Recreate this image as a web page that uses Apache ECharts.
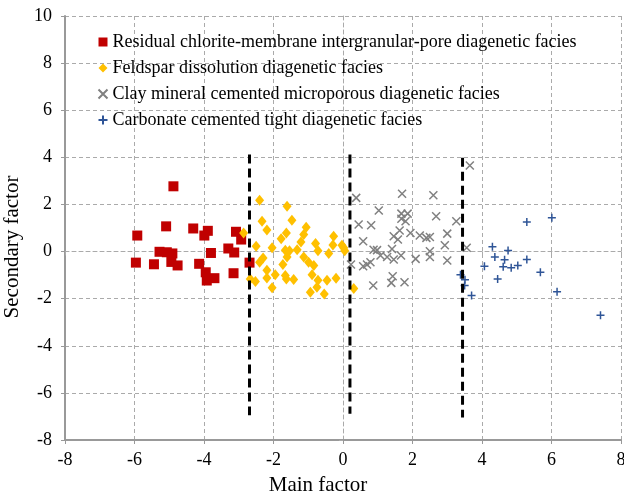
<!DOCTYPE html>
<html>
<head>
<meta charset="utf-8">
<script src="https://cdn.jsdelivr.net/npm/echarts@6/dist/echarts.min.js"></script>
<style>html,body{margin:0;padding:0;background:#fff}#c{width:624px;height:497px}</style>
</head>
<body>
<div id="c"></div>
<script>
const seriesNames = [
  'Residual chlorite-membrane intergranular-pore diagenetic facies',
  'Feldspar dissolution diagenetic facies',
  'Clay mineral cemented microporous diagenetic facies',
  'Carbonate cemented tight diagenetic facies'
];
const residualChlorite = [
  [-4.88,2.77],[-5.92,0.68],[-5.09,1.07],[-4.31,0.98],[-3.89,0.88],[-3.99,0.68],
  [-3.08,0.84],[-2.93,0.51],[-5.28,-0.01],[-5.07,-0.03],[-4.91,-0.08],[-3.80,-0.06],
  [-3.30,0.13],[-3.13,-0.04],[-5.96,-0.47],[-5.44,-0.54],[-4.94,-0.44],[-4.76,-0.59],
  [-4.14,-0.52],[-2.69,-0.47],[-3.95,-0.88],[-3.70,-1.13],[-3.92,-1.23],[-3.15,-0.92]
];
const feldspar = [
  [-2.40,2.18],[-1.61,1.92],[-2.33,1.29],[-1.47,1.33],[-2.19,0.91],[-1.06,1.03],
  [-2.86,0.79],[-1.63,0.79],[-1.13,0.72],[-1.78,0.54],[-0.27,0.65],[-1.21,0.41],
  [-0.79,0.34],[-0.29,0.28],[-2.50,0.23],[-2.04,0.16],[-0.03,0.27],[0.05,0.03],
  [-1.66,0.06],[-1.54,0.03],[-1.32,0.08],[-0.72,0.03],[-0.41,-0.08],[-1.61,-0.23],
  [-1.13,-0.23],[-2.30,-0.27],[-2.40,-0.45],[-0.99,-0.45],[-1.73,-0.55],[-0.84,-0.59],
  [-2.19,-0.79],[-1.95,-0.98],[-0.89,-0.98],[-1.66,-1.02],[-2.19,-1.12],[-2.67,-1.16],
  [-2.52,-1.27],[-1.63,-1.16],[-1.42,-1.19],[-0.72,-1.22],[-0.46,-1.22],[-0.20,-1.13],
  [-2.04,-1.54],[-0.75,-1.52],[-0.94,-1.73],[-0.54,-1.80],[0.31,-1.57],[0.02,0.16]
];
const clayMineral = [
  [3.65,3.65],[0.38,2.28],[1.70,2.45],[2.60,2.39],[1.03,1.74],[1.68,1.61],
  [1.86,1.61],[1.68,1.39],[1.80,1.29],[2.68,1.50],[3.26,1.29],[0.45,1.15],
  [0.81,1.12],[1.63,0.89],[1.94,0.79],[2.21,0.68],[2.40,0.58],[2.50,0.62],
  [3.00,0.76],[1.46,0.65],[1.58,0.51],[0.58,0.44],[2.93,0.27],[3.56,0.16],
  [0.88,0.08],[0.98,0.06],[1.41,0.11],[2.50,0.01],[1.08,-0.17],[1.27,-0.23],
  [1.46,-0.34],[1.67,-0.17],[2.09,-0.31],[2.50,-0.23],[0.23,-0.55],[0.58,-0.62],
  [0.69,-0.55],[0.79,-0.45],[3.00,-0.38],[1.43,-1.05],[1.39,-1.33],[1.77,-1.30],
  [0.87,-1.44]
];
const carbonate = [
  [6.01,1.43],[5.29,1.26],[4.30,0.20],[4.75,0.04],[4.37,-0.23],[4.65,-0.35],
  [5.29,-0.34],[4.07,-0.62],[4.61,-0.65],[4.84,-0.69],[5.03,-0.59],[5.68,-0.88],
  [4.45,-1.16],[3.38,-0.98],[3.51,-1.20],[3.50,-1.44],[3.70,-1.87],[6.16,-1.71],
  [7.41,-2.70]
];
const boundaryLines = [
  [[-2.69,4.12],[-2.69,-6.95]],
  [[0.20,4.12],[0.20,-6.89]],
  [[3.44,3.98],[3.44,-7.04]]
];
const xTicks = {min:-8, max:8, interval:2};
const yTicks = {min:-8, max:10, interval:2};

const serif = 'Liberation Serif, Times New Roman, serif';
const chart = echarts.init(document.getElementById('c'), null, {renderer:'canvas'});
const crossPath = 'path://M0,0L10,10M10,0L0,10';
const plusPath = 'path://M5,0L5,10M0,5L10,5';
const series = [
  {name:seriesNames[0], type:'scatter', data:residualChlorite, symbol:'rect', symbolSize:10,
   itemStyle:{color:'#C00000', opacity:1}},
  {name:seriesNames[1], type:'scatter', data:feldspar, symbol:'diamond', symbolSize:[9,11],
   itemStyle:{color:'#FFC000', opacity:1}},
  {name:seriesNames[2], type:'scatter', data:clayMineral, symbol:crossPath, symbolSize:8,
   itemStyle:{color:'none', borderColor:'#808080', borderWidth:1.5, opacity:1}},
  {name:seriesNames[3], type:'scatter', data:carbonate, symbol:plusPath, symbolSize:8,
   itemStyle:{color:'none', borderColor:'#2F5597', borderWidth:1.5, opacity:1}}
];
boundaryLines.forEach(function(l){
  series.push({type:'line', data:l, symbol:'none', silent:true, xAxisIndex:0, yAxisIndex:0,
    lineStyle:{color:'#000', width:3, type:[9,5]}, z:5});
});
chart.setOption({
  animation:false,
  backgroundColor:'#fff',
  grid:{left:65, right:3, top:16, bottom:57, containLabel:false, outerBoundsMode:'none'},
  legend:{
    data:seriesNames, orient:'vertical', left:96, top:33, itemGap:8, padding:0,
    itemWidth:9, itemHeight:9,
    textStyle:{fontFamily:serif, fontSize:18, color:'#000'}
  },
  xAxis:[{
    type:'value', min:xTicks.min, max:xTicks.max, interval:xTicks.interval,
    name:'Main factor', nameLocation:'middle', nameGap:35,
    nameTextStyle:{fontFamily:serif, fontSize:21, color:'#000', padding:[0,50,0,0]},
    axisLine:{show:true, onZero:false, lineStyle:{color:'#999', width:2}},
    axisTick:{show:true, inside:false, length:4, lineStyle:{color:'#999'}},
    axisLabel:{fontFamily:serif, fontSize:18, color:'#000', margin:11},
    splitLine:{show:true, lineStyle:{color:'#aaa', type:[4,3], width:1}}
  },{
    type:'value', position:'top', min:xTicks.min, max:xTicks.max, interval:xTicks.interval,
    axisLine:{show:true, lineStyle:{color:'#aaa', type:[4,3], width:1}},
    axisTick:{show:true, inside:true, length:4, lineStyle:{color:'#aaa'}},
    axisLabel:{show:false}, splitLine:{show:false}
  }],
  yAxis:[{
    type:'value', min:yTicks.min, max:yTicks.max, interval:yTicks.interval,
    name:'Secondary factor', nameLocation:'middle', nameGap:37, nameRotate:90,
    nameTextStyle:{fontFamily:serif, fontSize:21, color:'#000', padding:[0,38,0,0]},
    axisLine:{show:true, onZero:false, lineStyle:{color:'#999', width:2}},
    axisTick:{show:true, inside:false, length:4, lineStyle:{color:'#999'}},
    axisLabel:{fontFamily:serif, fontSize:18, color:'#000', margin:13},
    splitLine:{show:true, lineStyle:{color:'#aaa', type:[4,3], width:1}}
  },{
    type:'value', position:'right', min:yTicks.min, max:yTicks.max, interval:yTicks.interval,
    axisLine:{show:true, lineStyle:{color:'#aaa', type:[4,3], width:1}},
    axisTick:{show:true, inside:true, length:4, lineStyle:{color:'#aaa'}},
    axisLabel:{show:false}, splitLine:{show:false}
  }],
  series:series
});
</script>
</body>
</html>
